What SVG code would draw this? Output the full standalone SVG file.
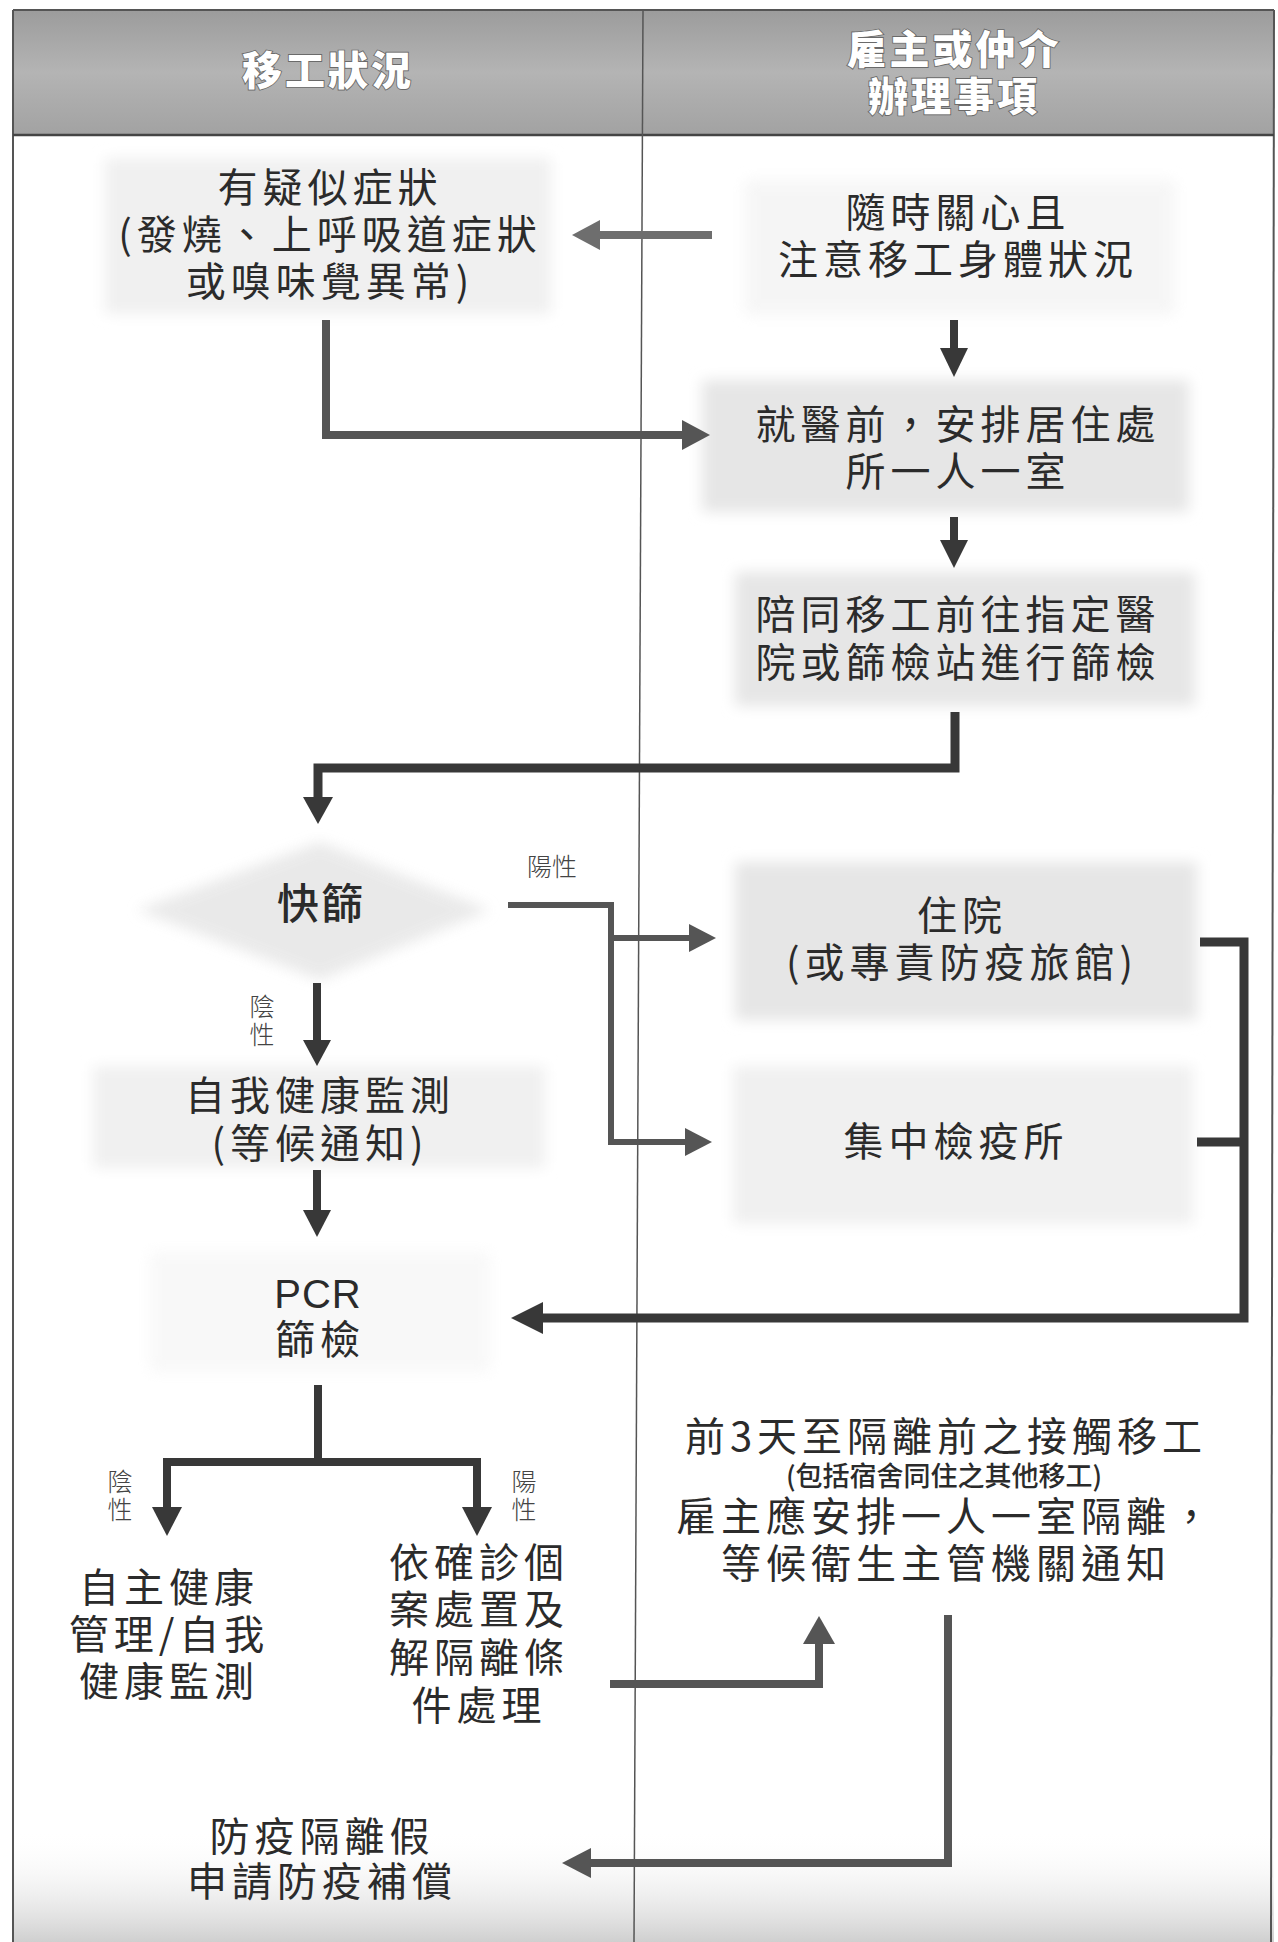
<svg xmlns="http://www.w3.org/2000/svg" width="1278" height="1942" viewBox="0 0 1278 1942">
<defs>
<style>
.t{font-family:"Noto Sans CJK TC","Noto Sans CJK SC",sans-serif;font-size:40px;letter-spacing:5px;fill:#2b2b2b;text-anchor:middle;font-weight:400}
.h{font-family:"Noto Sans CJK TC","Noto Sans CJK SC",sans-serif;font-size:40px;letter-spacing:3px;fill:#ffffff;stroke:#6a6a6a;stroke-width:1.8;paint-order:stroke;text-anchor:middle;font-weight:900}
.s{font-family:"Noto Sans CJK TC","Noto Sans CJK SC",sans-serif;font-size:25px;fill:#444;text-anchor:middle;font-weight:300}
.v{writing-mode:vertical-rl;letter-spacing:3px}
.sm{font-size:27px;font-weight:500;letter-spacing:0px}
.lat{font-family:"Liberation Sans",Arial,sans-serif;letter-spacing:1px}
.bg{fill:#e6e6e6;filter:url(#soft)}
.bgl{fill:#f0f0f0;filter:url(#soft)}
.ln{fill:none;stroke-linejoin:miter;stroke-linecap:butt}
.dk{stroke:#383838}
.md{stroke:#555555}
.lt{stroke:#6e6e6e}
.hdk{fill:#383838}
.hmd{fill:#555555}
.hlt{fill:#6e6e6e}
</style>
<filter id="soft" x="-10%" y="-10%" width="120%" height="120%"><feGaussianBlur stdDeviation="7"/></filter>
<linearGradient id="hg" x1="0" y1="0" x2="0" y2="1">
<stop offset="0" stop-color="#9c9c9c"/><stop offset="0.5" stop-color="#b4b4b4"/><stop offset="1" stop-color="#a2a2a2"/>
</linearGradient>
<linearGradient id="bot" x1="0" y1="0" x2="0" y2="1">
<stop offset="0" stop-color="#ffffff" stop-opacity="0"/><stop offset="1" stop-color="#cfcfcf"/>
</linearGradient>
</defs>
<rect x="0" y="0" width="1278" height="1942" fill="#ffffff"/>
<rect x="13" y="1830" width="1261" height="112" fill="url(#bot)"/>

<g id="frame">
<rect x="13" y="10" width="1261" height="125" fill="url(#hg)"/>
<line x1="13" y1="10" x2="1274" y2="10" stroke="#555" stroke-width="2"/>
<line x1="13" y1="10" x2="13" y2="1942" stroke="#555" stroke-width="2"/>
<line x1="1274" y1="10" x2="1271" y2="1942" stroke="#555" stroke-width="2"/>
<line x1="13" y1="135" x2="1274" y2="135" stroke="#444" stroke-width="2.5"/>
<line x1="643" y1="10" x2="634" y2="1942" stroke="#555" stroke-width="1.5"/>
</g>

<g id="header-left"><text class="h" x="328" y="85">移工狀況</text></g>
<g id="header-right"><text class="h"><tspan x="954" y="64">雇主或仲介</tspan><tspan x="954" y="111">辦理事項</tspan></text></g>

<g id="n1"><rect class="bgl" x="105" y="158" width="446" height="156"/>
<text class="t"><tspan x="330" y="202">有疑似症狀</tspan><tspan x="330" y="249">(發燒、上呼吸道症狀</tspan><tspan x="330" y="296">或嗅味覺異常)</tspan></text></g>
<g id="n2"><rect class="bgl" x="745" y="180" width="430" height="135" opacity="0.6"/>
<text class="t"><tspan x="958" y="227">隨時關心且</tspan><tspan x="958" y="274">注意移工身體狀況</tspan></text></g>
<g id="n3"><rect class="bg" x="702" y="380" width="487" height="132"/>
<text class="t"><tspan x="958" y="439">就醫前，安排居住處</tspan><tspan x="958" y="486">所一人一室</tspan></text></g>
<g id="n4"><rect class="bg" x="735" y="572" width="460" height="134"/>
<text class="t"><tspan x="958" y="629">陪同移工前往指定醫</tspan><tspan x="958" y="677">院或篩檢站進行篩檢</tspan></text></g>
<g id="quick"><polygon class="bg" points="137,910 320,842 490,910 320,980" opacity="0.85"/>
<text class="t" x="321" y="919" style="font-weight:500;font-size:42px;letter-spacing:2px">快篩</text></g>
<g id="hosp"><rect class="bg" x="735" y="862" width="462" height="158"/>
<text class="t"><tspan x="962" y="930">住院</tspan><tspan x="962" y="977">(或專責防疫旅館)</tspan></text></g>
<g id="quar"><rect class="bgl" x="733" y="1066" width="460" height="158"/>
<text class="t" x="956" y="1156">集中檢疫所</text></g>
<g id="self"><rect class="bgl" x="93" y="1066" width="452" height="102"/>
<text class="t"><tspan x="320" y="1110">自我健康監測</tspan><tspan x="320" y="1158">(等候通知)</tspan></text></g>
<g id="pcr"><rect class="bgl" x="150" y="1252" width="340" height="120" opacity="0.45"/>
<text class="t"><tspan class="lat" x="318" y="1308">PCR</tspan><tspan x="320" y="1354">篩檢</tspan></text></g>
<g id="neg"><text class="t"><tspan x="169" y="1602">自主健康</tspan><tspan x="169" y="1649">管理/自我</tspan><tspan x="169" y="1696">健康監測</tspan></text></g>
<g id="pos"><text class="t"><tspan x="479" y="1577">依確診個</tspan><tspan x="479" y="1624">案處置及</tspan><tspan x="479" y="1672">解隔離條</tspan><tspan x="479" y="1720">件處理</tspan></text></g>
<g id="contact"><text class="t"><tspan x="946" y="1451">前3天至隔離前之接觸移工</tspan><tspan class="sm" x="944" y="1486">(包括宿舍同住之其他移工)</tspan><tspan x="946" y="1531">雇主應安排一人一室隔離，</tspan><tspan x="946" y="1578">等候衛生主管機關通知</tspan></text></g>
<g id="leave"><text class="t"><tspan x="322" y="1851">防疫隔離假</tspan><tspan x="322" y="1896">申請防疫補償</tspan></text></g>

<g id="labels">
<text class="s" x="552" y="876">陽性</text>
<text class="s v" x="262" y="1022">陰性</text>
<text class="s v" x="120" y="1497">陰性</text>
<text class="s v" x="524" y="1497">陽性</text>
</g>

<g id="connectors">
<path class="ln lt" stroke-width="8" d="M712,235 H598"/>
<polygon class="hlt" points="572,235 600,220 600,250"/>
<path class="ln dk" stroke-width="8" d="M954,320 V350"/>
<polygon class="hdk" points="954,377 940,348 968,348"/>
<path class="ln md" stroke-width="8" d="M326,320 V435 H684"/>
<polygon class="hmd" points="710,435 682,420 682,450"/>
<path class="ln dk" stroke-width="8" d="M954,517 V542"/>
<polygon class="hdk" points="954,568 940,540 968,540"/>
<path class="ln dk" stroke-width="9" d="M955,712 V768 H318 V799"/>
<polygon class="hdk" points="318,824 303,797 333,797"/>
<path class="ln md" stroke-width="6" d="M508,905 H611 V1142 H686 M611,938 H690"/>
<polygon class="hmd" points="716,938 689,924 689,952"/>
<polygon class="hmd" points="712,1142 685,1128 685,1156"/>
<path class="ln dk" stroke-width="9" d="M1200,942 H1244 V1318 H540 M1197,1142 H1244"/>
<polygon class="hdk" points="511,1318 543,1302 543,1334"/>
<path class="ln dk" stroke-width="8" d="M317,983 V1042"/>
<polygon class="hdk" points="317,1066 303,1040 331,1040"/>
<path class="ln dk" stroke-width="8" d="M317,1170 V1212"/>
<polygon class="hdk" points="317,1237 303,1210 331,1210"/>
<path class="ln dk" stroke-width="8" d="M318,1385 V1462 M167,1510 V1462 H477 V1510"/>
<polygon class="hdk" points="167,1536 152,1507 182,1507"/>
<polygon class="hdk" points="477,1536 462,1507 492,1507"/>
<path class="ln md" stroke-width="8" d="M610,1684 H819 V1641"/>
<polygon class="hmd" points="819,1616 803,1644 835,1644"/>
<path class="ln md" stroke-width="8" d="M948,1615 V1863 H588"/>
<polygon class="hmd" points="562,1863 591,1848 591,1878"/>
</g>
</svg>
